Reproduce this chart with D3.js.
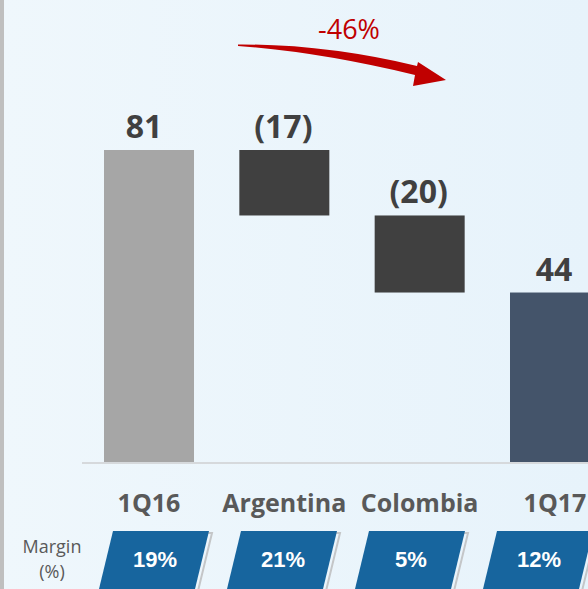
<!DOCTYPE html>
<html>
<head>
<meta charset="utf-8">
<script src="https://cdn.jsdelivr.net/npm/d3@7"></script>
<style>
  html, body { margin: 0; padding: 0; overflow: hidden; }
  body { width: 588px; height: 589px; }
</style>
</head>
<body>
<div id="chart"></div>
<script>
'use strict'
/* Datos del gráfico */
var categorias = ['1Q16', 'Argentina', 'Colombia', '1Q17'];
var valores = [81, -17, -20, 44];
var etiquetas = ['81', '(17)', '(20)', '44'];
var tipos = ['total', 'delta', 'delta', 'total'];
var margenes = ['19%', '21%', '5%', '12%'];
var variacion = '-46%';

var w = 588;
var h = 589;
var colores = { total0: '#a6a6a6', delta: '#404040', total1: '#44546a' };

function dibujo(){
	var svg = d3.select('#chart')
				.append('svg')
				.attr('width', w)
				.attr('height', h);

	// Fondo con degradado
	var defs = svg.append('defs');
	var grad = defs.append('linearGradient')
				   .attr('id', 'fondo')
				   .attr('x1', '0').attr('y1', '0')
				   .attr('x2', '1').attr('y2', '0');
	grad.append('stop').attr('offset', '0%').attr('stop-color', '#eff7fc');
	grad.append('stop').attr('offset', '100%').attr('stop-color', '#e7f3fb');
	svg.append('rect').attr('width', w).attr('height', h).attr('fill', 'url(#fondo)');
	svg.append('rect').attr('x', 0).attr('y', 0).attr('width', 4).attr('height', h).attr('fill', '#bfbfbf');

	// Escalas
	var xScale = d3.scaleBand()
				   .domain(categorias)
				   .range([104, 600])
				   .paddingInner(0.335)
				   .paddingOuter(0);
	var yScale = d3.scaleLinear()
				   .domain([0, d3.max(valores)])
				   .range([462, 150]);

	// Acumulados de la cascada
	var acumulado = 0;
	var barras = valores.map((d, i)=>{
		var ini, fin;
		if (tipos[i] === 'total') { ini = 0; fin = d; acumulado = d; }
		else { ini = acumulado; fin = acumulado + d; acumulado = fin; }
		return { cat: categorias[i], ini: ini, fin: fin, label: etiquetas[i], i: i };
	});

	// Línea base
	svg.append('line')
	   .attr('x1', 82).attr('x2', w)
	   .attr('y1', yScale(0) + 1).attr('y2', yScale(0) + 1)
	   .attr('stroke', '#d6d9dc').attr('stroke-width', 2);

	svg.selectAll('rect.barra')
	   .data(barras)
	   .enter()
	   .append('rect')
	   .attr('class', 'barra')
	   .attr('x', (d)=> xScale(d.cat))
	   .attr('y', (d)=> yScale(Math.max(d.ini, d.fin)))
	   .attr('width', xScale.bandwidth())
	   .attr('height', (d)=> Math.abs(yScale(d.ini) - yScale(d.fin)))
	   .attr('fill', (d)=>{
	   		if (tipos[d.i] === 'delta') return colores.delta;
	   		return d.i === 0 ? colores.total0 : colores.total1;
	   });

	// Etiquetas de valor
	svg.selectAll('text.valor')
	   .data(barras)
	   .enter()
	   .append('text')
	   .attr('class', 'valor')
	   .attr('x', (d)=> xScale(d.cat) + xScale.bandwidth() / 2 - (d.i === 0 ? 5 : 1))
	   .attr('y', (d)=> yScale(Math.max(d.ini, d.fin)) - 12)
	   .attr('text-anchor', 'middle')
	   .attr('font-family', 'Open Sans, sans-serif')
	   .attr('font-weight', 'bold')
	   .attr('font-size', 32)
	   .attr('fill', '#404040')
	   .text((d)=> d.label);

	// Categorías
	svg.selectAll('text.cat')
	   .data(categorias)
	   .enter()
	   .append('text')
	   .attr('class', 'cat')
	   .attr('x', (d)=> xScale(d) + xScale.bandwidth() / 2)
	   .attr('y', 512)
	   .attr('text-anchor', 'middle')
	   .attr('font-family', 'Open Sans, sans-serif')
	   .attr('font-weight', 'bold')
	   .attr('font-size', 25)
	   .attr('fill', '#595959')
	   .text((d)=> d);

	// Margen
	var rotulo = svg.append('text')
					.attr('x', 52).attr('y', 553)
					.attr('text-anchor', 'middle')
					.attr('font-family', 'Open Sans, sans-serif')
					.attr('font-size', 18)
					.attr('fill', '#595959');
	rotulo.append('tspan').attr('x', 52).attr('y', 553).text('Margin');
	rotulo.append('tspan').attr('x', 52).attr('y', 578).text('(%)');

	var mScale = d3.scalePoint()
				   .domain(categorias)
				   .range([154, 538]);
	var caja = (cx)=> 'M' + (cx - 41) + ',531 L' + (cx + 55) + ',531 L' + (cx + 41) + ',589 L' + (cx - 55) + ',589 Z';
	var cajas = svg.selectAll('g.margen')
				   .data(categorias)
				   .enter()
				   .append('g')
				   .attr('class', 'margen');
	cajas.append('path')
		 .attr('d', (d)=> caja(mScale(d)))
		 .attr('transform', 'translate(3,2)')
		 .attr('fill', 'none')
		 .attr('stroke', '#c4c6c8')
		 .attr('stroke-width', 2);
	cajas.append('path')
		 .attr('d', (d)=> caja(mScale(d)))
		 .attr('fill', '#17659e');
	cajas.append('text')
		 .attr('x', (d)=> mScale(d) + 1)
		 .attr('y', 567)
		 .attr('text-anchor', 'middle')
		 .attr('font-family', 'Liberation Sans, Arial, sans-serif')
		 .attr('font-weight', 'bold')
		 .attr('font-size', 22)
		 .attr('fill', '#ffffff')
		 .text((d, i)=> margenes[i]);

	// Flecha de variación
	svg.append('path')
	   .attr('d', 'M238,44.5 Q325,44 417,66 L418,62 L446,80 L413,86 L415,75 Q320,52 238,46 Z')
	   .attr('fill', '#c00000');
	svg.append('text')
	   .attr('x', 349).attr('y', 39)
	   .attr('text-anchor', 'middle')
	   .attr('font-family', 'Open Sans, sans-serif')
	   .attr('font-size', 27)
	   .attr('fill', '#c00000')
	   .text(variacion);
}
dibujo();
</script>
</body>
</html>
